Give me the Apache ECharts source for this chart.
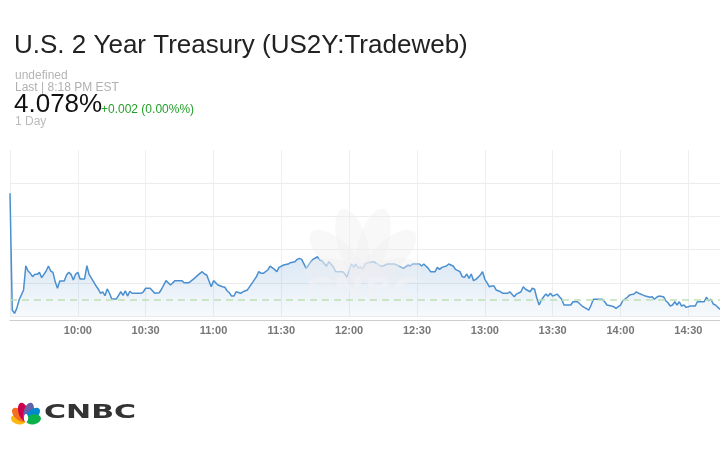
<!DOCTYPE html>
<html>
<head>
<meta charset="utf-8">
<script src="https://cdn.jsdelivr.net/npm/echarts@6/dist/echarts.min.js"></script>
<style>
html,body{margin:0;padding:0;background:#fff;}
#chart{width:720px;height:450px;}
</style>
</head>
<body>
<div id="chart"></div>
<script>
// ---- data ----
const chartTitle = 'U.S. 2 Year Treasury (US2Y:Tradeweb)';
const headerLines = ['undefined', 'Last | 8:18 PM EST'];
const lastValue = '4.078%';
const changeText = '+0.002 (0.00%%)';
const rangeText = '1 Day';
const sessionOpenMinute = 570; // 9:30
const sessionEndMinute = 884;  // 14:44
const tickLabels = ['10:00','10:30','11:00','11:30','12:00','12:30','13:00','13:30','14:00','14:30'];
const prevClose = 4.0687;
const minutesAfterOpen = [0,1,2,3,4,5,6,7,8,9,10,11,12,13,14,15,16,17,18,19,20,21,22,24,25,26,27,28,29,30,31,33,34,35,37,38,39,40,41,42,43,44,45,47,49,50,51,52,53,54,58,59,60,62,64,66,67,69,71,73,76,77,79,81,82,84,85,86,87,89,90,92,94,95,96,97,98,99,100,102,103,105,107,109,110,111,112,114,115,117,118,119,121,123,124,126,127,128,129,131,133,134,136,137,138,140,141,143,144,147,148,149,150,151,152,153,154,155,156,157,158,161,162,164,165,167,170,172,174,176,177,178,181,182,183,185,186,188,189,190,191,193,194,196,197,199,200,201,202,203,204,205,206,207,208,209,210,211,212,213,214,215,217,218,220,221,223,224,226,227,228,230,231,232,233,234,235,236,237,238,239,240,242,243,244,245,248,249,251,253,254,256,257,258,262,263,264,266,267,268,270,271,273,274,276,277,278,280,281,283,284,285,286,287,289,290,291,292,293,294,295,296,297,298,299,301,303,304,307,308,309,310,311,312,314];
const yields = [4.1339,4.0636,4.0616,4.0646,4.0696,4.0726,4.0757,4.0903,4.0871,4.0857,4.0837,4.0851,4.0851,4.0863,4.0831,4.0851,4.0871,4.0901,4.0871,4.0863,4.0806,4.0767,4.0811,4.0811,4.0847,4.0863,4.0851,4.0817,4.0851,4.0863,4.0823,4.0823,4.0903,4.0851,4.0806,4.0782,4.0763,4.0737,4.0746,4.0722,4.0763,4.0737,4.0702,4.0702,4.0746,4.0724,4.0752,4.0720,4.0749,4.0737,4.0737,4.0746,4.0767,4.0767,4.0737,4.0740,4.0761,4.0813,4.0787,4.0813,4.0813,4.0800,4.0800,4.0821,4.0833,4.0857,4.0867,4.0853,4.0847,4.0776,4.0813,4.0787,4.0776,4.0773,4.0752,4.0740,4.0720,4.0720,4.0746,4.0737,4.0746,4.0757,4.0797,4.0837,4.0867,4.0857,4.0857,4.0877,4.0901,4.0881,4.0867,4.0893,4.0907,4.0913,4.0921,4.0927,4.0941,4.0947,4.0941,4.0887,4.0927,4.0941,4.0957,4.0937,4.0933,4.0901,4.0927,4.0897,4.0867,4.0867,4.0857,4.0833,4.0877,4.0913,4.0893,4.0913,4.0887,4.0897,4.0881,4.0913,4.0921,4.0927,4.0917,4.0901,4.0901,4.0913,4.0913,4.0901,4.0887,4.0907,4.0901,4.0913,4.0913,4.0901,4.0913,4.0887,4.0867,4.0867,4.0893,4.0881,4.0893,4.0901,4.0913,4.0901,4.0881,4.0867,4.0837,4.0833,4.0853,4.0827,4.0853,4.0813,4.0821,4.0833,4.0847,4.0867,4.0821,4.0800,4.0776,4.0781,4.0781,4.0757,4.0746,4.0737,4.0737,4.0746,4.0716,4.0732,4.0746,4.0776,4.0761,4.0746,4.0767,4.0761,4.0707,4.0666,4.0696,4.0716,4.0732,4.0720,4.0737,4.0720,4.0732,4.0716,4.0701,4.0666,4.0666,4.0686,4.0686,4.0660,4.0652,4.0636,4.0666,4.0701,4.0701,4.0686,4.0666,4.0660,4.0656,4.0646,4.0666,4.0692,4.0713,4.0726,4.0732,4.0746,4.0737,4.0726,4.0720,4.0713,4.0716,4.0701,4.0713,4.0720,4.0716,4.0692,4.0680,4.0660,4.0666,4.0686,4.0666,4.0686,4.0660,4.0666,4.0652,4.0660,4.0660,4.0686,4.0686,4.0713,4.0692,4.0701,4.0672,4.0666,4.0640];
const yMin = 4.06, yMax = 4.16, yStep = 0.02;

// ---- build ----
const seriesData = minutesAfterOpen.map((m, i) => [sessionOpenMinute + m, yields[i]]);
function fmtMinute(v) {
  const h = Math.floor(v / 60), m = Math.round(v % 60);
  return h + ':' + (m < 10 ? '0' + m : m);
}

function peacock(cx, cy, scale, widthRatio, colors, z) {
  const angles = [78, 47, 16, -16, -47, -78];
  const lens = [0.8, 0.95, 1, 1, 0.95, 0.8];
  return angles.map((a, i) => ({
    type: 'ellipse',
    x: cx, y: cy,
    rotation: a * Math.PI / 180,
    shape: { cx: 0, cy: -lens[i] * scale / 2, rx: scale * widthRatio, ry: lens[i] * scale / 2 },
    style: { fill: colors[i] },
    silent: true,
    z: z
  }));
}
const logoColors = ['#fcb711', '#f37021', '#cc004c', '#6460aa', '#0089d0', '#0db14b'];
const wm = 'rgba(238,239,241,0.42)';
const wmColors = [wm, wm, wm, wm, wm, wm];

const chart = echarts.init(document.getElementById('chart'), null, { renderer: 'canvas' });
const splitColors = [];
for (let v = yMin; v <= yMax + 1e-9; v += yStep) splitColors.push('#ececec');
splitColors[splitColors.length - 1] = 'rgba(0,0,0,0)';

chart.setOption({
  animation: false,
  backgroundColor: '#fff',
  grid: { left: 10, right: 0, top: 150, bottom: 134 },
  xAxis: {
    type: 'value',
    min: sessionOpenMinute,
    max: sessionEndMinute,
    interval: 30,
    offset: 4,
    axisLine: { lineStyle: { color: '#cccccc', width: 1 } },
    axisTick: { show: false },
    axisLabel: {
      showMinLabel: false,
      showMaxLabel: false,
      color: '#777',
      fontFamily: 'Liberation Sans',
      fontWeight: 'bold',
      fontSize: 11,
      margin: 5,
      formatter: v => { const s = fmtMinute(v); return tickLabels.indexOf(s) >= 0 ? s : ''; }
    },
    splitLine: { show: true, lineStyle: { color: '#efefef', width: 1 } }
  },
  yAxis: {
    type: 'value',
    min: yMin, max: yMax, interval: yStep,
    axisLine: { show: false }, axisTick: { show: false }, axisLabel: { show: false },
    splitLine: { lineStyle: { color: splitColors, width: 1 } }
  },
  series: [{
    type: 'line',
    data: seriesData,
    showSymbol: false,
    z: 2,
    lineStyle: { color: '#4a8fd0', width: 1.5 },
    areaStyle: {
      color: {
        type: 'linear', x: 0, y: 150, x2: 0, y2: 318, global: true,
        colorStops: [
          { offset: 0, color: 'rgba(70,135,200,0.68)' },
          { offset: 1, color: 'rgba(70,135,200,0.06)' }
        ]
      }
    },
    markLine: {
      silent: true,
      symbol: 'none',
      label: { show: false },
      lineStyle: { color: '#bfe0b5', type: [7, 5], width: 1.5 },
      data: [{ yAxis: prevClose }]
    }
  }],
  graphic: [
    { type: 'text', x: 14, y: 46, silent: true,
      style: { text: chartTitle, font: '26px "Liberation Sans", Arial, sans-serif', fill: '#222', textVerticalAlign: 'middle' } },
    { type: 'text', x: 15, y: 76, silent: true,
      style: { text: headerLines[0], font: '12px "Liberation Sans", Arial, sans-serif', fill: '#b5b5b5', textVerticalAlign: 'middle' } },
    { type: 'text', x: 15, y: 88, silent: true,
      style: { text: headerLines[1], font: '12px "Liberation Sans", Arial, sans-serif', fill: '#b0b0b0', textVerticalAlign: 'middle' } },
    { type: 'text', x: 14, y: 105, silent: true,
      style: { text: lastValue, font: '26px "Liberation Sans", Arial, sans-serif', fill: '#111', textVerticalAlign: 'middle' } },
    { type: 'text', x: 101, y: 110, silent: true,
      style: { text: changeText, font: '12px "Liberation Sans", Arial, sans-serif', fill: '#24a02a', textVerticalAlign: 'middle' } },
    { type: 'text', x: 15, y: 122, silent: true,
      style: { text: rangeText, font: '12px "Liberation Sans", Arial, sans-serif', fill: '#bbbbbb', textVerticalAlign: 'middle' } },
    // watermark
    ...peacock(363, 280, 74, 0.2, wmColors, 10),
    { type: 'text', x: 363, y: 291, z: 10, silent: true, scaleX: 1.25,
      style: { text: 'CNBC', font: 'bold 30px "DejaVu Sans", sans-serif', fill: 'rgba(240,242,245,0.55)', textAlign: 'center', textVerticalAlign: 'middle' } },
    // logo
    ...peacock(26, 421, 19, 0.26, logoColors, 10),
    { type: 'ellipse', x: 26, y: 421, shape: { cx: 0, cy: -3, rx: 2.2, ry: 4 }, style: { fill: '#fff' }, z: 11, silent: true },
    { type: 'text', x: 44, y: 413, z: 10, silent: true, scaleX: 1.58,
      style: { text: 'CNBC', font: 'bold 19px "DejaVu Sans", sans-serif', fill: '#333', textVerticalAlign: 'middle' } }
  ]
});
</script>
</body>
</html>
